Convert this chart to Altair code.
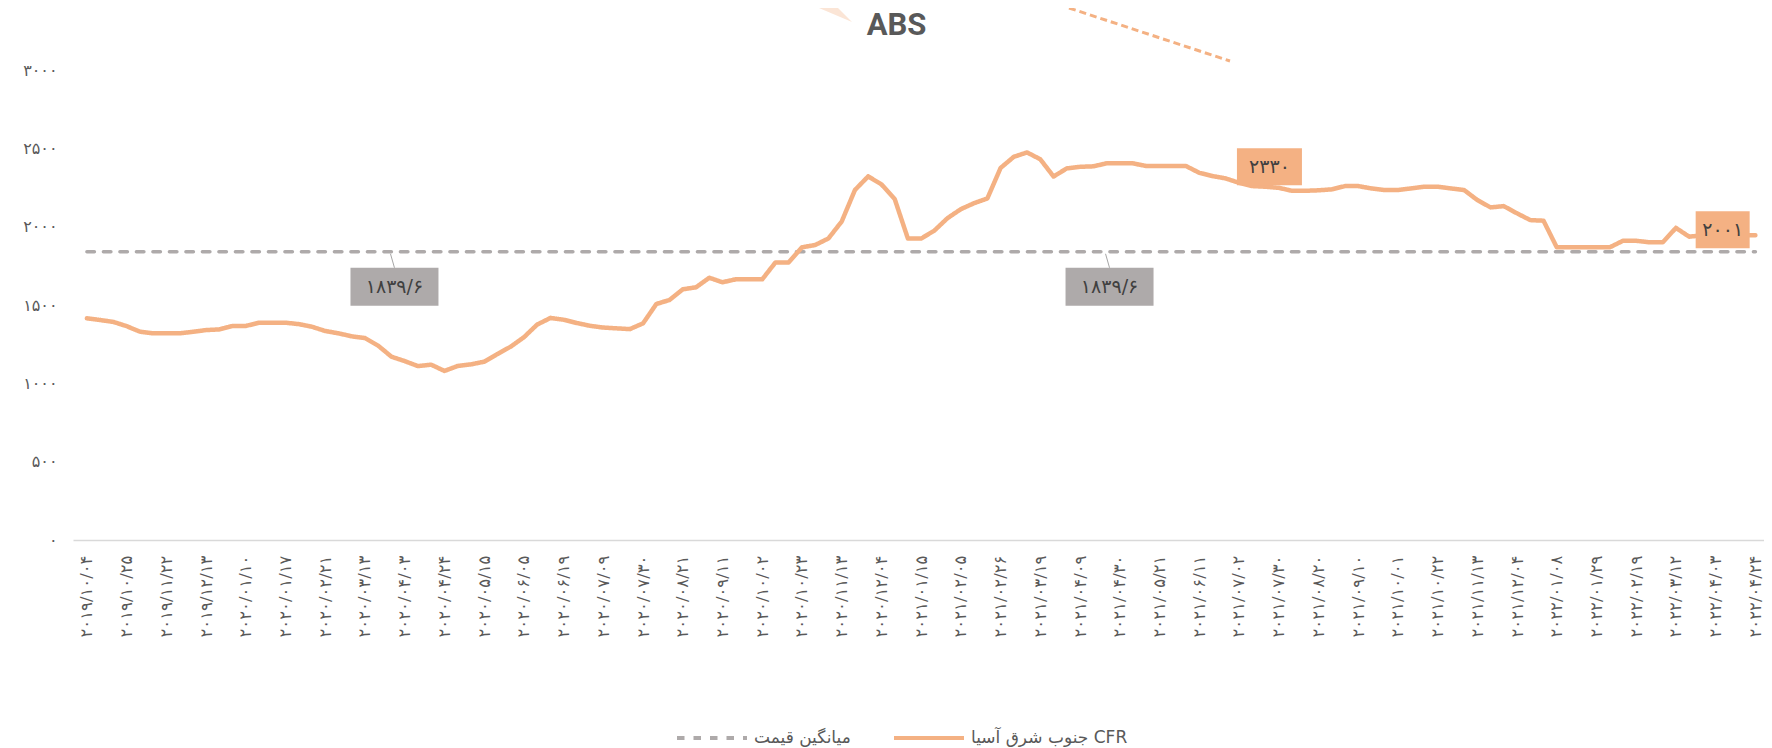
import json
import altair as alt
import pandas as pd

FA = str.maketrans("0123456789", "۰۱۲۳۴۵۶۷۸۹")

# ---- data -------------------------------------------------------------
labeled_dates = ["2019/10/04", "2019/10/25", "2019/11/22", "2019/12/13", "2020/01/10",
                 "2020/01/17", "2020/02/21", "2020/03/13", "2020/04/03", "2020/04/24",
                 "2020/05/15", "2020/06/05", "2020/06/19", "2020/07/09", "2020/07/30",
                 "2020/08/21", "2020/09/11", "2020/10/02", "2020/10/23", "2020/11/13",
                 "2020/12/04", "2021/01/15", "2021/02/05", "2021/02/26", "2021/03/19",
                 "2021/04/09", "2021/04/30", "2021/05/21", "2021/06/11", "2021/07/02",
                 "2021/07/30", "2021/08/20", "2021/09/10", "2021/10/01", "2021/10/22",
                 "2021/11/13", "2021/12/04", "2022/01/08", "2022/01/29", "2022/02/19",
                 "2022/03/12", "2022/04/03", "2022/04/24"]
tick_labels = [d.translate(FA) for d in labeled_dates]
tick_step = 3

prices = [
    1415, 1404, 1392, 1365, 1330, 1319, 1319, 1319, 1329, 1340,
    1344, 1366, 1366, 1387, 1387, 1387, 1378, 1361, 1334, 1319,
    1300, 1289, 1240, 1170, 1142, 1110, 1119, 1079, 1111, 1121,
    1138, 1187, 1234, 1294, 1375, 1417, 1406, 1385, 1367, 1356,
    1351, 1346, 1383, 1506, 1532, 1600, 1613, 1674, 1645, 1664,
    1664, 1664, 1772, 1772, 1868, 1883, 1925, 2033, 2234, 2321,
    2270, 2177, 1924, 1924, 1975, 2055, 2112, 2150, 2180, 2375,
    2446, 2474, 2430, 2320, 2372, 2382, 2385, 2404, 2404, 2404,
    2387, 2387, 2387, 2387, 2344, 2323, 2308, 2280, 2259, 2255,
    2248, 2229, 2229, 2232, 2238, 2259, 2259, 2244, 2234, 2234,
    2244, 2255, 2255, 2244, 2234, 2170, 2123, 2131, 2085, 2042,
    2038, 1868, 1868, 1868, 1868, 1868, 1910, 1910, 1900, 1900,
    1992, 1936, 1945, 1948, 1946, 1946, 1945,
]
avg_price = 1839.6
price_name = "جنوب شرق آسیا CFR"
avg_name = "میانگین قیمت"

y_ticks = [0, 500, 1000, 1500, 2000, 2500, 3000]
y_tick_labels = [str(v).translate(FA) for v in y_ticks]

avg_label_points = [23, 77]
avg_label_text = "۱۸۳۹/۶"
value_label_points = [89, 123]
value_label_texts = ["۲۳۳۰", "۲۰۰۱"]

# ---- colours / styles -------------------------------------------------
ORANGE = "#F4B183"
GRAY = "#AEAAAA"
TXT = "#595959"
DARK = "#404040"
FONT = "DejaVu Sans"

n = len(prices)
df_price = pd.DataFrame({"i": list(range(n)), "v": prices, "s": price_name})
df_avg = pd.DataFrame({"i": [0, n - 1], "v": [avg_price, avg_price], "s": avg_name})

xs = alt.Scale(domain=[-1.05, 126.65], nice=False, zero=False)
ys = alt.Scale(domain=[0, 3000], nice=False)

x_expr = json.dumps(tick_labels, ensure_ascii=False) + f"[round(datum.value/{tick_step})]"
y_expr = (json.dumps(y_tick_labels, ensure_ascii=False)
          + "[indexof(" + json.dumps(y_ticks) + ", datum.value)]")

X = alt.X("i:Q", scale=xs, axis=alt.Axis(
    values=list(range(0, n, tick_step)), labelExpr=x_expr, title=None,
    ticks=False, grid=False, domainColor="#D9D9D9", domainWidth=1.5,
    labelAngle=270, labelAlign="right", labelBaseline="middle",
    labelFont=FONT, labelFontSize=16.5, labelColor=TXT, labelPadding=15,
    labelOverlap=False, labelFlush=False, labelBound=False))
Y = alt.Y("v:Q", scale=ys, axis=alt.Axis(
    values=y_ticks, labelExpr=y_expr, title=None, ticks=False, domain=False,
    grid=False, labelFont=FONT, labelFontSize=16, labelColor=TXT,
    labelPadding=16))

legend = alt.Legend(title=None, orient="none", legendX=602, legendY=631,
                    direction="horizontal", symbolType="stroke", symbolSize=4900,
                    symbolStrokeWidth=4, labelFont=FONT, labelFontSize=17,
                    labelColor=TXT, labelLimit=400, columnPadding=35,
                    labelOffset=5, padding=0)
C = alt.Color("s:N", scale=alt.Scale(domain=[avg_name, price_name], range=[GRAY, ORANGE]),
              legend=legend)
D = alt.StrokeDash("s:N", scale=alt.Scale(domain=[avg_name, price_name],
                                          range=[[7.5, 9], [1, 0]]), legend=legend)

avg_line = alt.Chart(df_avg).mark_line(strokeWidth=3.5, strokeCap="round").encode(
    x=X, y=Y, color=C, strokeDash=D)
price_line = alt.Chart(df_price).mark_line(
    strokeWidth=4.5, strokeCap="round", strokeJoin="round").encode(
    x=X, y=Y, color=C, strokeDash=D)


def box(i, v, text, fill, w, h, dx, dy):
    df = pd.DataFrame({"i": [i], "v": [v], "t": [text]})
    base = alt.Chart(df).encode(x=X, y=Y)
    hw, hh = w / 2, h / 2
    rect = base.mark_point(shape=f"M{-hw},{-hh}H{hw}V{hh}H{-hw}Z", size=4, filled=True,
                           color=fill, opacity=1, strokeWidth=0, xOffset=dx, yOffset=dy)
    txt = base.mark_text(font=FONT, fontSize=19, color=DARK, align="center",
                         baseline="middle", dx=dx, dy=dy).encode(text="t:N")
    return [rect, txt]


def leader(i, v):
    df = pd.DataFrame({"i": [i], "v": [v]})
    return alt.Chart(df).mark_point(shape="M-1,2L3,16", size=4, filled=False,
                                    color="#A6A6A6", opacity=1, strokeWidth=1).encode(x=X, y=Y)


layers = [avg_line, price_line]
for i in avg_label_points:
    layers.append(leader(i, avg_price))
    layers += box(i, avg_price, avg_label_text, GRAY, 88, 38, 3, 35)
layers += box(value_label_points[0], prices[value_label_points[0]], value_label_texts[0],
              ORANGE, 65, 37, 4, -20)
layers += box(value_label_points[1], prices[value_label_points[1]], value_label_texts[1],
              ORANGE, 54, 37, 7, -5)

# stray callout pieces visible at the top of the original image
one = pd.DataFrame({"k": [0]})
wedge = alt.Chart(one).mark_point(shape="M0,0L19,0L33,14Z", size=4, filled=True,
                                  color="#FBE5D6", opacity=1, strokeWidth=0).encode(
    x=alt.value(746), y=alt.value(-62))
dash_deco = alt.Chart(one).mark_rule(color=ORANGE, strokeWidth=3, strokeDash=[7, 4]).encode(
    x=alt.value(996), y=alt.value(-62), x2=alt.value(1157), y2=alt.value(-9))

chart = alt.layer(wedge, dash_deco, *layers).properties(
    width=1691, height=470,
    autosize=alt.AutoSizeParams(type="none"),
    padding={"left": 65, "top": 62, "right": 0, "bottom": 208},
    background="white",
    title=alt.TitleParams(text="ABS", font="Roboto", fontSize=31, fontWeight="bold",
                          color=TXT, anchor="middle", baseline="alphabetic",
                          dx=-22, offset=-59, frame="group"),
).configure_view(strokeWidth=0)

chart.save("out.html", embed_options={"renderer": "svg", "actions": False})
